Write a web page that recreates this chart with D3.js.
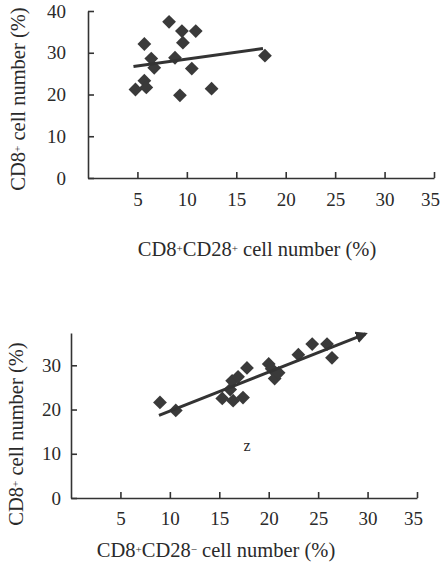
<!DOCTYPE html>
<html>
<head>
<meta charset="utf-8">
<script src="https://cdn.jsdelivr.net/npm/d3@7"></script>
<style>
  body { margin: 0; background: #fff; }
  svg { display: block; }
  text { font-family: "Liberation Serif", "Times New Roman", serif; fill: #2a2a2a; }
</style>
</head>
<body>
<svg id="chart" width="441" height="571"></svg>
<script>
// top panel: CD8+CD28+ vs CD8+
var topX = [4.8, 5.7, 5.7, 5.9, 6.4, 6.7, 8.2, 8.8, 9.3, 9.5, 9.6, 10.5, 10.9, 12.5, 17.9];
var topY = [21.2, 32.1, 23.3, 21.7, 28.6, 26.4, 37.4, 28.8, 19.8, 35.2, 32.4, 26.2, 35.2, 21.4, 29.3];
var topFit = [[4.6, 26.7], [17.7, 31.0]];

// bottom panel: CD8+CD28- vs CD8+
var botX = [9.0, 10.6, 15.3, 16.1, 16.3, 16.4, 16.9, 17.4, 17.8, 20.0, 20.3, 20.6, 21.0, 23.0, 24.4, 25.9, 26.4];
var botY = [21.6, 19.8, 22.5, 24.5, 26.5, 22.0, 27.4, 22.7, 29.4, 30.3, 29.2, 27.0, 28.3, 32.4, 34.8, 34.8, 31.7];
var botFit = [[8.9, 18.7], [29.8, 37.1]];

var xTicks = [5, 10, 15, 20, 25, 30, 35];
var topYTicks = [0, 10, 20, 30, 40];
var botYTicks = [0, 10, 20, 30];

var svg = d3.select('#chart');
var ink = '#333';

svg.append('defs').append('marker')
  .attr('id', 'arrow')
  .attr('viewBox', '0 0 10 10')
  .attr('refX', 8).attr('refY', 5)
  .attr('markerWidth', 4).attr('markerHeight', 4)
  .attr('orient', 'auto')
  .append('path')
  .attr('d', 'M0,0 L10,5 L0,10 z')
  .attr('fill', ink);

function label(g, x, y, parts, rotate) {
  var t = g.append('text')
    .attr('text-anchor', 'middle')
    .attr('font-size', 20.5)
    .attr('transform', 'translate(' + x + ',' + y + ')' + (rotate ? ' rotate(-90)' : ''));
  parts.forEach(function(p) {
    var s = t.append('tspan').text(p[0]);
    if (p[1]) s.attr('baseline-shift', '40%').attr('font-size', 11);
  });
  return t;
}

function panel(opt) {
  var x = d3.scaleLinear().domain([0, 35]).range(opt.xr);
  var y = d3.scaleLinear().domain(opt.yd).range(opt.yr);
  var g = svg.append('g');

  var ax = g.append('g')
    .attr('transform', 'translate(0,' + opt.yr[0] + ')')
    .call(d3.axisBottom(x).tickValues(xTicks).tickSizeInner(-6).tickSizeOuter(0).tickPadding(opt.xpad));
  var ay = g.append('g')
    .attr('transform', 'translate(' + opt.xr[0] + ',0)')
    .call(d3.axisLeft(y).tickValues(opt.yt).tickSizeInner(-6).tickSizeOuter(0).tickPadding(opt.ypad));
  [ax, ay].forEach(function(a) {
    a.selectAll('path, line').attr('stroke', ink).attr('stroke-width', 1.6);
    a.selectAll('text').attr('font-size', 19).attr('fill', '#2a2a2a')
      .attr('font-family', '"Liberation Serif", serif');
  });
  // last x label sits left of its tick, as in the source
  ax.selectAll('.tick text').filter(function(d) { return d === 35; }).attr('dx', -4);

  g.selectAll('.pt')
    .data(opt.xs.map(function(d, i) { return [d, opt.ys[i]]; }))
    .enter().append('path')
    .attr('d', d3.symbol(d3.symbolSquare, 95))
    .attr('transform', function(d) { return 'translate(' + x(d[0]) + ',' + y(d[1]) + ') rotate(45)'; })
    .attr('fill', '#3a3a3a');

  var fit = g.append('path')
    .datum(opt.fit)
    .attr('d', d3.line().x(function(d) { return x(d[0]); }).y(function(d) { return y(d[1]); }))
    .attr('fill', 'none')
    .attr('stroke', ink)
    .attr('stroke-width', 3);
  if (opt.arrow) fit.attr('marker-end', 'url(#arrow)');

  return { g: g, x: x, y: y };
}

var p1 = panel({
  xr: [88, 434], yd: [0, 40], yr: [178, 11], yt: topYTicks,
  xpad: 15, ypad: 22, xs: topX, ys: topY, fit: topFit
});
label(p1.g, 257, 256, [['CD8'], ['+', 1], ['CD28'], ['+', 1], [' cell number (%)']]);
label(p1.g, 25, 99, [['CD8'], ['+', 1], [' cell number (%)']], true);

var p2 = panel({
  xr: [71, 417], yd: [0, 37.3], yr: [498, 333], yt: botYTicks,
  xpad: 14, ypad: 10, xs: botX, ys: botY, fit: botFit, arrow: true
});
label(p2.g, 216, 557, [['CD8'], ['+', 1], ['CD28'], ['\u2212', 1], [' cell number (%)']]);
label(p2.g, 23, 434, [['CD8'], ['+', 1], [' cell number (%)']], true);
p2.g.append('text')
  .attr('x', p2.x(17.8)).attr('y', p2.y(11.9))
  .attr('text-anchor', 'middle').attr('dy', '0.35em')
  .attr('font-size', 16)
  .text('z');
</script>
</body>
</html>
